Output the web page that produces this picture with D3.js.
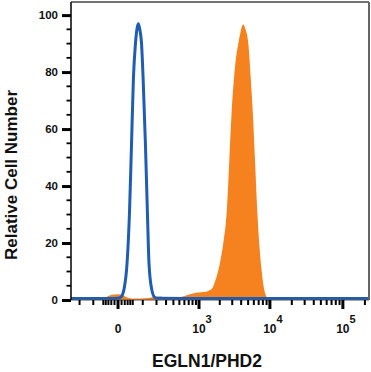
<!DOCTYPE html>
<html><head><meta charset="utf-8">
<script src="https://cdn.jsdelivr.net/npm/d3@7"></script>
<style>body{margin:0;background:#fff}</style></head>
<body>
<svg id="c" width="371" height="372"></svg>
<script>
// Isotype control (blue outline)
const isoX = [-288, -24, 0, 8, 18, 28, 37, 45, 53, 62, 70, 76, 82, 93, 102, 116, 129, 140, 159, 183, 214, 1000, 10000, 227500];
const isoY = [0.5, 0.5, 0.6, 1, 4, 13, 31, 55, 78, 90, 95.5, 97, 95.5, 90, 78, 55, 31, 13, 4, 1, 0.6, 0.5, 0.5, 0.5];
// EGLN1/PHD2 stained (orange filled)
const egX = [-288, -90, -65, -39, -18, 0, 15, 31, 60, 114, 163, 234, 300, 379, 512, 636, 786, 967, 1185, 1356, 1549, 1710, 1888, 2083, 2261, 2509, 2730, 2951, 3179, 3390, 3651, 3918, 4246, 4600, 5031, 5432, 5790, 6231, 6706, 7146, 7713, 8298, 8840, 9510, 10360, 227500];
const egY = [0, 0, 0.3, 1, 1.8, 2, 1.6, 0.8, 0.5, 0.6, 1, 1.2, 0.8, 0.8, 1, 1.6, 2.2, 2.6, 2.8, 3.2, 4, 6.5, 10, 15, 20.5, 31, 49, 66.5, 78, 85, 90, 94, 96.7, 95, 90, 78, 66.5, 49, 31, 19.5, 10, 4, 1.5, 0.4, 0, 0];

const yMajor = [0, 20, 40, 60, 80, 100];
const yMinor = [5, 10, 15, 25, 30, 35, 45, 50, 55, 65, 70, 75, 85, 90, 95];
const xMajor = [0, 1000, 10000, 100000];
const xLabelBase = ["0", "10", "10", "10"];
const xLabelExp = ["", "3", "4", "5"];
const xMinor = [-200, -100, -50, -40, -30, -20, -10, 10, 20, 30, 40, 50, 100, 200, 300, 400, 500, 600, 700, 800, 900,
  2000, 3000, 4000, 5000, 6000, 7000, 8000, 9000, 20000, 30000, 40000, 50000, 60000, 70000, 80000, 90000, 200000];
const xTitle = "EGLN1/PHD2";
const yTitle = "Relative Cell Number";

const L = 71, R = 369, T = 2, B = 300;
const svg = d3.select("#c");
const x = d3.scaleSymlog().constant(85).domain([-288, 227500]).range([L, R]);
const y = d3.scaleLinear().domain([0, 104.6]).range([B, T]);

svg.append("defs").append("clipPath").attr("id", "clip")
  .append("rect").attr("x", L).attr("y", T - 1).attr("width", R - L).attr("height", B - T + 1);

const eg = egX.map((v, i) => [v, egY[i]]);
const iso = isoX.map((v, i) => [v, isoY[i]]);

const g = svg.append("g").attr("clip-path", "url(#clip)");
g.append("path").datum(eg)
  .attr("d", d3.area().x(d => x(d[0])).y0(y(0)).y1(d => y(d[1])).curve(d3.curveMonotoneX))
  .attr("fill", "#f5821f");
g.append("path").datum(iso)
  .attr("d", d3.line().x(d => x(d[0])).y(d => y(d[1])).curve(d3.curveMonotoneX))
  .attr("fill", "none").attr("stroke", "#1f5cb4").attr("stroke-width", 3).attr("stroke-linejoin", "round");

// frame
svg.append("line").attr("x1", L).attr("x2", R).attr("y1", T).attr("y2", T).attr("stroke", "#444").attr("stroke-width", 1.5);
svg.append("line").attr("x1", R).attr("x2", R).attr("y1", T).attr("y2", B).attr("stroke", "#666").attr("stroke-width", 2);

// y axis
const ya = svg.append("g").attr("transform", `translate(${L},0)`);
ya.call(d3.axisLeft(y).tickValues(yMajor).tickSize(9).tickFormat(d3.format("d")));
ya.select(".domain").attr("stroke", "#000").attr("stroke-width", 1.5).attr("d", `M0,${T}V${B}`);
ya.selectAll(".tick line").attr("stroke-width", 3).attr("stroke", "#000");
ya.selectAll(".tick text").attr("font-family", "Liberation Sans, Arial, sans-serif").attr("font-weight", "bold")
  .attr("font-size", 11.5).attr("fill", "#111").attr("x", -13);
ya.selectAll(".minor").data(yMinor).join("line").attr("class", "minor")
  .attr("x1", -4.5).attr("x2", 0).attr("y1", d => y(d)).attr("y2", d => y(d))
  .attr("stroke", "#000").attr("stroke-width", 1.8);

// x axis
const xa = svg.append("g").attr("transform", `translate(0,${B})`);
xa.append("line").attr("x1", L).attr("x2", R).attr("y1", 0).attr("y2", 0).attr("stroke", "#555").attr("stroke-width", 1);
xa.selectAll(".xmin").data(xMinor).join("line").attr("class", "xmin")
  .attr("x1", d => x(d)).attr("x2", d => x(d)).attr("y1", 0).attr("y2", 5)
  .attr("stroke", "#000").attr("stroke-width", 2);
xa.selectAll(".xmaj").data(xMajor).join("line").attr("class", "xmaj")
  .attr("x1", d => x(d)).attr("x2", d => x(d)).attr("y1", 0).attr("y2", 9)
  .attr("stroke", "#000").attr("stroke-width", 3);
const lab = xa.selectAll(".xl").data(xMajor).join("text").attr("class", "xl")
  .attr("x", (d, i) => x(d) + (xLabelExp[i] ? 3 : 0)).attr("y", 33)
  .attr("text-anchor", "middle")
  .attr("font-family", "Liberation Sans, Arial, sans-serif").attr("font-weight", "bold")
  .attr("font-size", 12).attr("fill", "#111");
lab.each(function (d, i) {
  const t = d3.select(this);
  t.append("tspan").text(xLabelBase[i]);
  if (xLabelExp[i]) t.append("tspan").attr("dy", -10).attr("font-size", 11).text(xLabelExp[i]);
});

// titles
svg.append("text").attr("x", 207).attr("y", 367).attr("text-anchor", "middle")
  .attr("font-family", "Liberation Sans, Arial, sans-serif").attr("font-weight", "bold")
  .attr("font-size", 17.5).attr("fill", "#111").text(xTitle);
svg.append("text").attr("transform", "translate(17,175) rotate(-90)").attr("text-anchor", "middle")
  .attr("font-family", "Liberation Sans, Arial, sans-serif").attr("font-weight", "bold")
  .attr("font-size", 17).attr("fill", "#111").text(yTitle);
</script>
</body></html>
